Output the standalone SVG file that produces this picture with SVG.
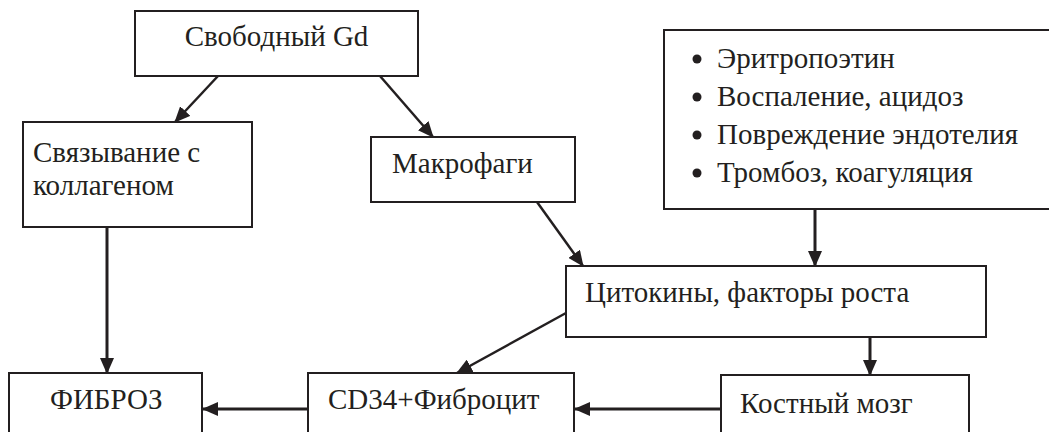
<svg xmlns="http://www.w3.org/2000/svg" width="1049" height="432" viewBox="0 0 1049 432">
<defs>
<style>
.box{fill:#fff;stroke:#231f20;stroke-width:2}
text{font-family:'Liberation Serif','Times New Roman',serif;font-size:29px;fill:#231f20}
.c{stroke:#231f20;fill:none}
.thick{stroke-width:3}
.thin{stroke-width:2.5}
.dot{fill:#231f20}
</style>
<marker id="ah" markerUnits="userSpaceOnUse" markerWidth="16" markerHeight="14" refX="15" refY="7" orient="auto">
<path d="M0,0 L16,7 L0,14 Z" fill="#231f20"/>
</marker>
</defs>
<rect width="1049" height="432" fill="#fff"/>
<g id="connectors">
<line class="c thin" x1="218" y1="76" x2="175" y2="122" marker-end="url(#ah)"/>
<line class="c thin" x1="380" y1="76" x2="433" y2="137" marker-end="url(#ah)"/>
<line class="c thick" x1="107" y1="227" x2="107" y2="373" marker-end="url(#ah)"/>
<line class="c thin" x1="537" y1="202" x2="583" y2="266" marker-end="url(#ah)"/>
<line class="c thick" x1="815" y1="209" x2="815" y2="266" marker-end="url(#ah)"/>
<line class="c thin" x1="566" y1="313" x2="457" y2="373" marker-end="url(#ah)"/>
<line class="c thick" x1="870" y1="337" x2="870" y2="375" marker-end="url(#ah)"/>
<line class="c thick" x1="721" y1="409" x2="575" y2="409" marker-end="url(#ah)"/>
<line class="c thick" x1="308" y1="409" x2="203" y2="409" marker-end="url(#ah)"/>
</g>
<g id="n-gd">
<rect class="box" x="135" y="11" width="283" height="65"/>
<text x="276.5" y="46" text-anchor="middle">Свободный Gd</text>
</g>
<g id="n-collagen">
<rect class="box" x="23" y="122" width="229" height="105"/>
<text x="33" y="162">Связывание с</text>
<text x="33" y="195">коллагеном</text>
</g>
<g id="n-macro">
<rect class="box" x="371" y="137" width="204" height="65"/>
<text x="392" y="173">Макрофаги</text>
</g>
<g id="n-factors">
<rect class="box" x="664" y="30" width="400" height="179"/>
<circle class="dot" cx="697" cy="59" r="4.5"/>
<circle class="dot" cx="697" cy="97" r="4.5"/>
<circle class="dot" cx="697" cy="135" r="4.5"/>
<circle class="dot" cx="697" cy="173" r="4.5"/>
<text x="717" y="68">Эритропоэтин</text>
<text x="717" y="106">Воспаление, ацидоз</text>
<text x="717" y="144">Повреждение эндотелия</text>
<text x="717" y="182">Тромбоз, коагуляция</text>
</g>
<g id="n-cytokines">
<rect class="box" x="566" y="266" width="420" height="71"/>
<text x="585" y="302">Цитокины, факторы роста</text>
</g>
<g id="n-marrow">
<rect class="box" x="721" y="375" width="248" height="70"/>
<text x="740" y="413">Костный мозг</text>
</g>
<g id="n-fibrocyte">
<rect class="box" x="308" y="373" width="266" height="70"/>
<text x="328" y="409">CD34+Фиброцит</text>
</g>
<g id="n-fibrosis">
<rect class="box" x="9" y="373" width="193" height="70"/>
<text x="50" y="409">ФИБРОЗ</text>
</g>
</svg>
